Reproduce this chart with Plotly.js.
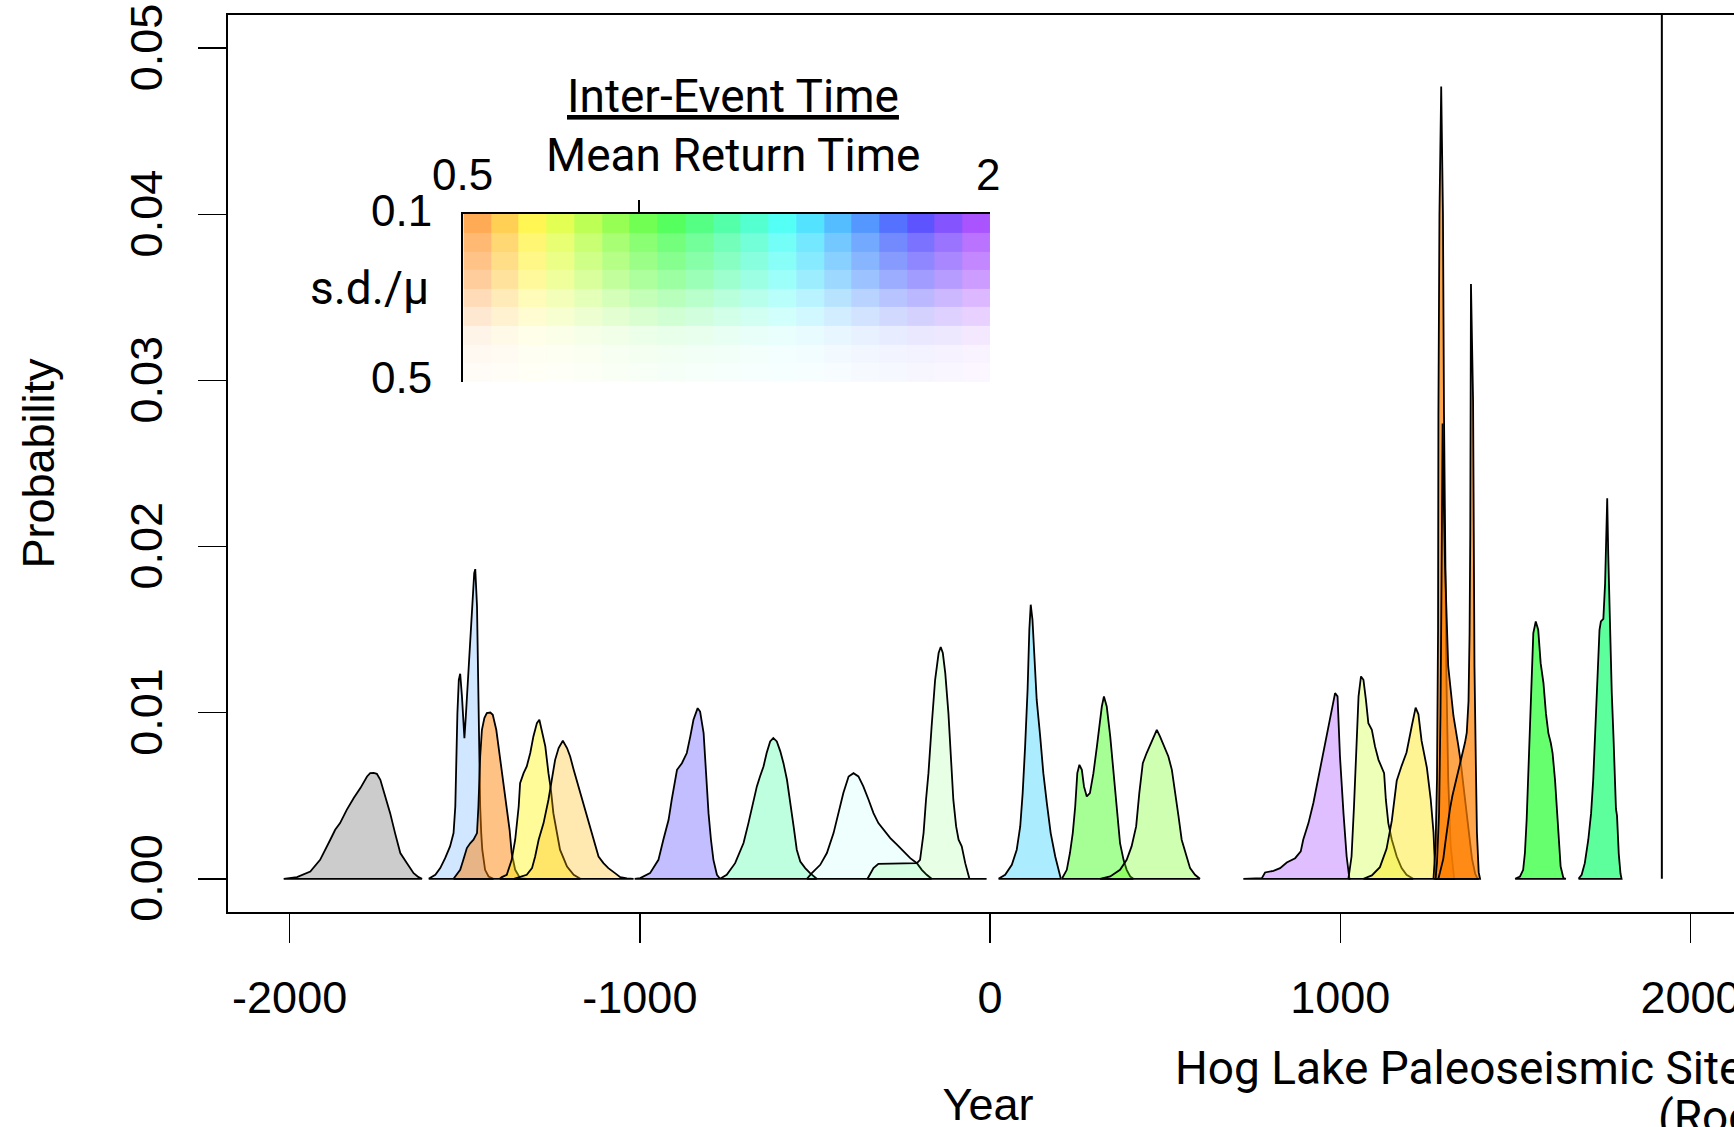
<!DOCTYPE html>
<html>
<head>
<meta charset="utf-8">
<script src="https://cdn.plot.ly/plotly-3.0.1.min.js"></script>
<style>
html, body { margin: 0; padding: 0; overflow: hidden; background: #ffffff; }
#chart { width: 1780px; height: 1160px; }
</style>
</head>
<body>
<div id="chart"></div>
<script>
// ---------------- DATA ----------------
const xTickYears = [-2000, -1000, 0, 1000, 2000];
const yTickProbs = [0, 0.01, 0.02, 0.03, 0.04, 0.05];
const historicEventYear = [1918];

const ev01_year = [-2017,-1979,-1941,-1913,-1884,-1870,-1856,-1837,-1817,-1798,-1779,-1770,-1760,-1751,-1741,-1727,-1713,-1699,-1684,-1665,-1646,-1632,-1622];
const ev01_prob = [0,0.0001,0.00044,0.00114,0.00235,0.00295,0.00335,0.00415,0.00486,0.00546,0.00616,0.00636,0.00638,0.00632,0.00596,0.00496,0.00395,0.00275,0.00155,0.00094,0.00034,0.0001,0];

const ev02_year = [-1603,-1584,-1570,-1556,-1542,-1532,-1527,-1524,-1521,-1517,-1513,-1508,-1504,-1501,-1497,-1491,-1484,-1479,-1473,-1470,-1467,-1465,-1462,-1460,-1458,-1456,-1453,-1450,-1442,-1432,-1418];
const ev02_prob = [0,0.00024,0.00064,0.00124,0.00195,0.00275,0.00435,0.00736,0.00997,0.01198,0.01234,0.01098,0.00897,0.00847,0.00977,0.01198,0.01439,0.0168,0.0184,0.01864,0.0176,0.0164,0.01238,0.00877,0.00636,0.00435,0.00275,0.00175,0.00054,0.00014,0];

const ev03_year = [-1532,-1513,-1504,-1494,-1484,-1475,-1465,-1461,-1456,-1451,-1444,-1437,-1427,-1420,-1410,-1399,-1389,-1380,-1372,-1366,-1356,-1342,-1323];
const ev03_prob = [0,0.00054,0.00114,0.00185,0.00215,0.00235,0.00275,0.00435,0.00736,0.00897,0.00967,0.00997,0.01001,0.00987,0.00897,0.00716,0.00556,0.00415,0.00295,0.00155,0.00054,0.00004,0];

const ev04_year = [-1400,-1394,-1380,-1366,-1356,-1346,-1342,-1332,-1323,-1313,-1304,-1294,-1287,-1280,-1270,-1261,-1254,-1247,-1237,-1228,-1208,-1189,-1170];
const ev04_prob = [0,0.0001,0.00024,0.00114,0.00235,0.00435,0.00576,0.00636,0.00676,0.00757,0.00857,0.00937,0.00957,0.00897,0.00797,0.00636,0.00536,0.00395,0.00275,0.00175,0.00074,0.00024,0];

const ev05_year = [-1360,-1342,-1323,-1308,-1299,-1289,-1275,-1261,-1251,-1242,-1232,-1220,-1208,-1199,-1189,-1175,-1161,-1147,-1132,-1118,-1104,-1090,-1071,-1056,-1037,-1018];
const ev05_prob = [0,0.0001,0.00024,0.00064,0.00134,0.00235,0.00335,0.00476,0.00596,0.00716,0.00787,0.00831,0.00787,0.00736,0.00656,0.00556,0.00456,0.00355,0.00235,0.00134,0.00094,0.00064,0.00034,0.0001,0.00003,0];

const ev06_year = [-1015,-999,-971,-947,-933,-918,-909,-899,-894,-880,-866,-856,-847,-835,-828,-818,-811,-804,-797,-790,-780,-771];
const ev06_prob = [0,0.00004,0.00034,0.00114,0.00235,0.00355,0.00476,0.00596,0.00656,0.00696,0.00757,0.00857,0.00957,0.01027,0.01007,0.00877,0.00636,0.00395,0.00235,0.00114,0.00024,0];

const ev07_year = [-771,-752,-728,-704,-690,-676,-666,-657,-647,-638,-628,-619,-609,-599,-590,-580,-571,-561,-552,-542,-528,-514,-495];
const ev07_prob = [0,0.00024,0.00094,0.00215,0.00335,0.00476,0.00556,0.00616,0.00676,0.00757,0.00827,0.00847,0.00827,0.00767,0.00696,0.00596,0.00476,0.00315,0.00175,0.00104,0.00064,0.00034,0];

const ev08_year = [-523,-509,-485,-466,-447,-433,-419,-404,-390,-376,-362,-347,-333,-319,-305,-285,-266,-247,-228,-209,-195,-181,-167];
const ev08_prob = [0,0.00034,0.00084,0.00155,0.00275,0.00395,0.00516,0.00616,0.00636,0.00616,0.00556,0.00476,0.00395,0.00335,0.00295,0.00245,0.00205,0.00165,0.00124,0.00094,0.00054,0.00024,0];

const ev09_year = [-350,-333,-319,-295,-247,-209,-200,-190,-183,-176,-167,-157,-147,-141,-135,-128,-119,-111,-105,-97,-90,-81,-71,-59,-10];
const ev09_prob = [0,0.00064,0.0009,0.0009,0.0009,0.00094,0.00114,0.00275,0.00476,0.00636,0.00917,0.01198,0.01359,0.01395,0.01359,0.01238,0.00997,0.00736,0.00476,0.00315,0.00235,0.00195,0.00094,0,0];

const ev10_year = [24,43,62,76,86,93,100,107,112,116,121,127,133,143,152,162,173,186,195,202];
const ev10_prob = [0,0.00024,0.00084,0.00175,0.00315,0.00516,0.00797,0.01138,0.01499,0.0165,0.01559,0.01338,0.01078,0.00857,0.00636,0.00456,0.00275,0.00134,0.00054,0];

const ev11_year = [205,219,228,236,243,249,255,262,268,276,285,295,305,312,319,325,333,343,352,362,371,381,390,400,409];
const ev11_prob = [0,0.00054,0.00155,0.00275,0.00435,0.00636,0.00686,0.00656,0.00556,0.00496,0.00516,0.00636,0.00797,0.00937,0.01037,0.01098,0.01037,0.00857,0.00636,0.00395,0.00215,0.00114,0.00054,0.00014,0];

const ev12_year = [314,343,371,390,404,417,426,436,447,459,468,476,485,497,509,519,528,538,547,560,571,585,599];
const ev12_prob = [0,0.00014,0.00054,0.00114,0.00195,0.00315,0.00516,0.00696,0.00757,0.00817,0.00857,0.00897,0.00857,0.00797,0.00736,0.00656,0.00536,0.00375,0.00235,0.00134,0.00064,0.00024,0];

const ev13_year = [723,776,785,809,828,847,871,887,894,909,923,934,947,961,973,985,992,999,1009,1018,1026];
const ev13_prob = [0,0.00004,0.00038,0.00048,0.00064,0.00098,0.00124,0.00165,0.00235,0.00335,0.00456,0.00576,0.00716,0.00877,0.00997,0.01118,0.01098,0.00736,0.00395,0.00134,0];

const ev14_year = [1023,1032,1039,1045,1052,1059,1066,1073,1080,1090,1099,1109,1118,1125,1130,1137,1147,1161,1175,1189,1208];
const ev14_prob = [0,0.00134,0.00435,0.00797,0.01098,0.01218,0.01198,0.01078,0.00937,0.00897,0.00797,0.00716,0.00676,0.00636,0.00476,0.00335,0.00235,0.00134,0.00064,0.00024,0];

const ev15_year = [1066,1090,1113,1132,1147,1161,1175,1189,1204,1215,1223,1232,1247,1258,1266,1270,1276];
const ev15_prob = [0,0.0002,0.0007,0.0018,0.0035,0.0059,0.0068,0.0076,0.0092,0.0103,0.0099,0.0083,0.0067,0.0048,0.0028,0.0009,0];

const ev16_year = [1266,1272,1276,1279,1280,1283,1288,1293,1296,1299,1303,1308,1315,1325];
const ev16_prob = [0,0.002,0.006,0.015,0.028,0.040,0.0477,0.040,0.028,0.019,0.012,0.006,0.002,0];

const ev17_year = [1272,1276,1282,1286,1289,1291,1292,1296,1299,1308,1323,1337,1344,1352,1360,1368,1376,1385,1392];
const ev17_prob = [0,0.001,0.004,0.010,0.018,0.025,0.0274,0.022,0.0188,0.0128,0.0098,0.008,0.007,0.0055,0.004,0.0025,0.0012,0.0003,0];

const ev18_year = [1280,1290,1294,1300,1306,1313,1320,1328,1335,1342,1350,1356,1361,1366,1369,1371,1373,1376,1379,1381,1383,1387,1390,1395,1399];
const ev18_prob = [0,0.0008,0.0012,0.0022,0.0032,0.0042,0.005,0.0057,0.0063,0.007,0.0076,0.0082,0.0088,0.0107,0.0147,0.0208,0.0358,0.033,0.0288,0.0208,0.0128,0.0068,0.0028,0.0004,0];

const ev19_year = [1499,1513,1522,1527,1532,1537,1541,1546,1551,1558,1565,1572,1580,1587,1594,1601,1606,1613,1618,1624,1629,1637,1644];
const ev19_prob = [0,0.00014,0.00054,0.00155,0.00355,0.00636,0.00957,0.01238,0.01479,0.01549,0.01499,0.01298,0.01178,0.00997,0.00877,0.00817,0.00757,0.00596,0.00435,0.00235,0.00074,0.00004,0];

const ev20_year = [1680,1689,1698,1708,1716,1722,1728,1734,1740,1744,1751,1756,1760,1762,1765,1770,1775,1780,1784,1787,1790,1795,1800,1803];
const ev20_prob = [0,0.00024,0.00094,0.00235,0.00395,0.00596,0.00897,0.01198,0.01499,0.01549,0.01565,0.0178,0.0215,0.0229,0.0195,0.0145,0.0112,0.0085,0.006,0.0042,0.0038,0.0015,0.0003,0];

// Colour key (inter-event time): column = mean return time ratio, row = s.d./mu
const keyMeanRatio = [0.539,0.618,0.697,0.776,0.855,0.934,1.013,1.092,1.171,1.250,1.329,1.408,1.487,1.566,1.645,1.724,1.803,1.882,1.961];
const keySdRatio = [0.122,0.167,0.211,0.256,0.300,0.344,0.389,0.433,0.478];

// ---------------- STYLES ----------------
const eventFill = [
  'rgba(128,128,128,0.40)', 'rgba(0,115,255,0.18)', 'rgba(255,128,0,0.48)', 'rgba(255,245,0,0.40)',
  'rgba(255,184,0,0.31)', 'rgba(14,0,255,0.255)', 'rgba(0,255,128,0.26)', 'rgba(0,255,241,0.065)',
  'rgba(13,255,0,0.10)', 'rgba(0,200,255,0.33)', 'rgba(42,255,0,0.42)', 'rgba(99,255,0,0.31)',
  'rgba(128,0,255,0.25)', 'rgba(195,255,0,0.28)', 'rgba(255,228,0,0.42)', 'rgba(255,128,0,0.70)',
  'rgba(255,128,0,0.70)', 'rgba(255,128,0,0.70)', 'rgba(0,255,14,0.60)', 'rgba(0,255,98,0.64)'
];
const keyRowAlpha = [0.67, 0.55, 0.47, 0.39, 0.28, 0.18, 0.09, 0.05, 0.035];

const events = [
  [ev01_year, ev01_prob], [ev02_year, ev02_prob], [ev03_year, ev03_prob], [ev04_year, ev04_prob],
  [ev05_year, ev05_prob], [ev06_year, ev06_prob], [ev07_year, ev07_prob], [ev08_year, ev08_prob],
  [ev09_year, ev09_prob], [ev10_year, ev10_prob], [ev11_year, ev11_prob], [ev12_year, ev12_prob],
  [ev13_year, ev13_prob], [ev14_year, ev14_prob], [ev15_year, ev15_prob], [ev16_year, ev16_prob],
  [ev17_year, ev17_prob], [ev18_year, ev18_prob], [ev19_year, ev19_prob], [ev20_year, ev20_prob]
];

const xRange = [-2176, 2164];
const yRange = [-0.002, 0.052];
const rFont = 'Liberation Sans, Arial, sans-serif';
const pFont = 'Roboto, Arial, sans-serif';

const traces = [];
events.forEach(function (ev, i) {
  const xs = ev[0], ys = ev[1];
  traces.push({
    type: 'scatter', mode: 'lines',
    x: xs.concat([xs[0]]), y: ys.concat([ys[0]]),
    fill: 'toself', fillcolor: eventFill[i],
    line: { color: '#000000', width: 1.8 },
    hoverinfo: 'skip', showlegend: false
  });
});

// historic event marker line
traces.push({
  type: 'scatter', mode: 'lines',
  x: [historicEventYear[0], historicEventYear[0]], y: [0, yRange[1]],
  line: { color: '#000000', width: 2 }, hoverinfo: 'skip', showlegend: false
});

// colour key heatmap
function hueRGB(h) {
  const c = 1, x = 1 - Math.abs((h / 60) % 2 - 1);
  let r, g, b;
  if (h < 60) { r = c; g = x; b = 0; }
  else if (h < 120) { r = x; g = c; b = 0; }
  else if (h < 180) { r = 0; g = c; b = x; }
  else if (h < 240) { r = 0; g = x; b = c; }
  else if (h < 300) { r = x; g = 0; b = c; }
  else { r = c; g = 0; b = x; }
  return [r * 255, g * 255, b * 255];
}
const nCol = keyMeanRatio.length, nRow = keySdRatio.length;
const nCells = nCol * nRow;
const zKey = [];
const keyScale = [];
for (let j = 0; j < nRow; j++) {
  const row = [];
  for (let i = 0; i < nCol; i++) {
    const k = j * nCol + i;
    row.push(k);
    const base = hueRGB(30 + i * 240 / (nCol - 1));
    const a = keyRowAlpha[j];
    const col = base.map(function (v) { return Math.round(255 - a * (255 - v)); });
    keyScale.push([k / (nCells - 1), 'rgb(' + col.join(',') + ')']);
  }
  zKey.push(row);
}
traces.push({
  type: 'heatmap', x: keyMeanRatio, y: keySdRatio, z: zKey,
  zmin: 0, zmax: nCells - 1, colorscale: keyScale, showscale: false,
  xaxis: 'x2', yaxis: 'y2', hoverinfo: 'skip'
});

const layout = {
  width: 1780, height: 1160,
  margin: { l: 228, r: 32, t: 15, b: 248 },
  paper_bgcolor: '#ffffff', plot_bgcolor: '#ffffff',
  showlegend: false,
  xaxis: {
    range: xRange, tickvals: xTickYears, ticktext: xTickYears.map(String),
    ticks: 'outside', ticklen: 29, tickwidth: 1.5, tickcolor: '#000000',
    showline: true, mirror: true, linecolor: '#000000', linewidth: 2,
    showgrid: false, zeroline: false,
    tickfont: { family: rFont, size: 45, color: '#000000' },
    ticklabelstandoff: 16, ticklabeloverflow: 'allow',
    title: { text: 'Year', font: { family: rFont, size: 45, color: '#000000' }, standoff: 66 }
  },
  yaxis: {
    range: yRange, tickvals: yTickProbs, tickformat: '.2f',
    ticks: 'outside', ticklen: 28, tickwidth: 1.5, tickcolor: '#000000',
    tickangle: -90,
    showline: true, mirror: true, linecolor: '#000000', linewidth: 2,
    showgrid: false, zeroline: false,
    tickfont: { family: rFont, size: 45, color: '#000000' },
    ticklabelstandoff: 18, ticklabelshift: 6, ticklabeloverflow: 'allow',
    title: { text: 'Probability', font: { family: rFont, size: 45, color: '#000000' }, standoff: 52 }
  },
  xaxis2: {
    domain: [0.1549, 0.5013], anchor: 'y2', range: [0.5, 2], side: 'top',
    showline: true, linecolor: '#000000', linewidth: 2,
    tickvals: [1], ticktext: [''], ticks: 'outside', ticklen: 12, tickwidth: 2, tickcolor: '#000000',
    showgrid: false, zeroline: false, fixedrange: true
  },
  yaxis2: {
    domain: [0.5909, 0.7781], anchor: 'x2', range: [0.5, 0.1],
    showline: true, linecolor: '#000000', linewidth: 2,
    showticklabels: false, ticks: '', showgrid: false, zeroline: false, fixedrange: true
  },
  annotations: [
    { text: '<u>Inter-Event Time</u>', xref: 'paper', yref: 'paper', x: 0.3322, y: 0.9097, xanchor: 'center', yanchor: 'middle', showarrow: false, font: { family: pFont, size: 46, color: '#000000' } },
    { text: 'Mean Return Time', xref: 'paper', yref: 'paper', x: 0.3322, y: 0.8439, xanchor: 'center', yanchor: 'middle', showarrow: false, font: { family: pFont, size: 46, color: '#000000' } },
    { text: '0.5', xref: 'paper', yref: 'paper', x: 0.1546, y: 0.8227, xanchor: 'center', yanchor: 'middle', showarrow: false, font: { family: rFont, size: 44, color: '#000000' } },
    { text: '2', xref: 'paper', yref: 'paper', x: 0.5, y: 0.8227, xanchor: 'center', yanchor: 'middle', showarrow: false, font: { family: rFont, size: 44, color: '#000000' } },
    { text: '0.1', xref: 'paper', yref: 'paper', x: 0.1355, y: 0.7826, xanchor: 'right', yanchor: 'middle', showarrow: false, font: { family: rFont, size: 44, color: '#000000' } },
    { text: '0.5', xref: 'paper', yref: 'paper', x: 0.1355, y: 0.5964, xanchor: 'right', yanchor: 'middle', showarrow: false, font: { family: rFont, size: 44, color: '#000000' } },
    { text: 's.d./μ', xref: 'paper', yref: 'paper', x: 0.0928, y: 0.6957, xanchor: 'center', yanchor: 'middle', showarrow: false, font: { family: pFont, size: 46, color: '#000000' } },
    { text: 'Hog Lake Paleoseismic Site', xref: 'paper', yref: 'paper', x: 0.6217, y: -0.1739, xanchor: 'left', yanchor: 'middle', showarrow: false, font: { family: pFont, size: 46, color: '#000000' } },
    { text: '(Rockwell et al., 2015)', xref: 'paper', yref: 'paper', x: 0.9394, y: -0.2285, xanchor: 'left', yanchor: 'middle', showarrow: false, font: { family: pFont, size: 46, color: '#000000' } }
  ]
};

Plotly.newPlot('chart', traces, layout, { staticPlot: true, displayModeBar: false });
</script>
</body>
</html>
